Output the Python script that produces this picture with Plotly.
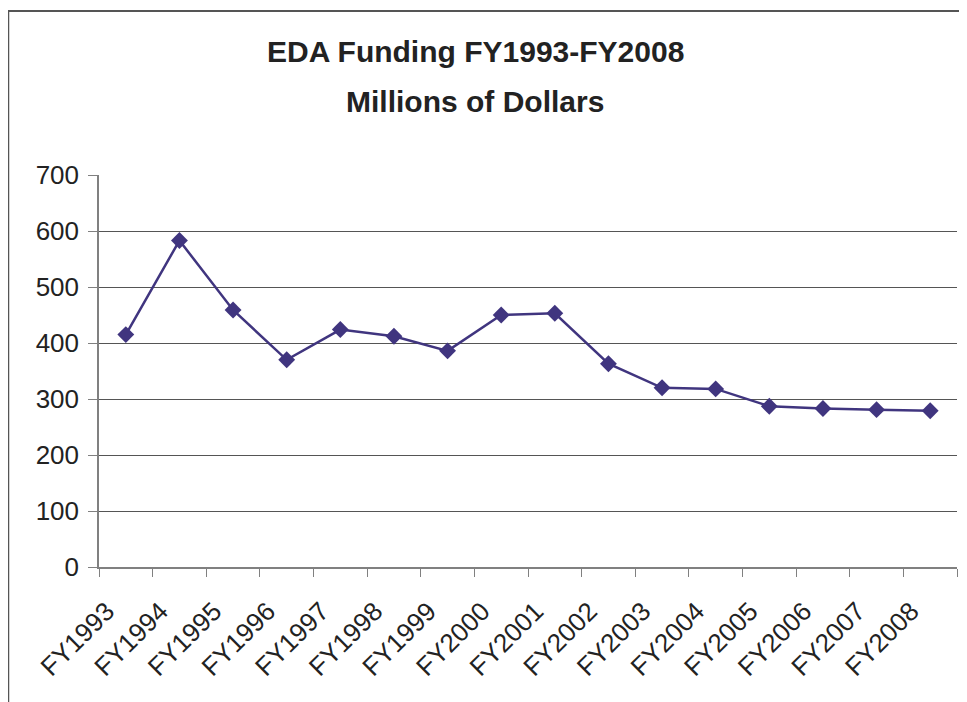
import plotly.graph_objects as go

years = ["FY1993", "FY1994", "FY1995", "FY1996", "FY1997", "FY1998", "FY1999", "FY2000",
         "FY2001", "FY2002", "FY2003", "FY2004", "FY2005", "FY2006", "FY2007", "FY2008"]
funding = [415, 583, 459, 370, 424, 412, 386, 450, 453, 363, 320, 318, 287, 283, 281, 279]
y_ticks = [0, 100, 200, 300, 400, 500, 600, 700]

# page offset (default body margin)
OFF = 8
PAGE_W, PAGE_H = 967, 702
W, H = PAGE_W - OFF, PAGE_H - OFF
# plot area in page pixels
PX0, PX1, PY0, PY1 = 99, 957, 175, 567
L, R, T, B = PX0 - OFF, W - (PX1 - OFF), PY0 - OFF, H - (PY1 - OFF)
pw, ph = W - L - R, H - T - B

def px_x(p):
    return (p - OFF - L) / pw

def px_y(p):
    return (H - B - (p - OFF)) / ph

line_color = "#40357f"
font_family = "Liberation Sans, Arial, sans-serif"

fig = go.Figure()
fig.add_trace(go.Scatter(
    x=years, y=funding, mode="lines+markers",
    line=dict(color=line_color, width=2.5),
    marker=dict(symbol="diamond", size=13, color=line_color),
    showlegend=False,
))

fig.update_layout(
    width=W, height=H,
    margin=dict(l=L, r=R, t=T, b=B),
    paper_bgcolor="white", plot_bgcolor="white",
    font=dict(family=font_family, color="#222222"),
    xaxis=dict(
        type="category", tickangle=-45, tickfont=dict(size=26, color="#222222"),
        showgrid=False, showline=True, linecolor="#808080", linewidth=1.5,
        ticks="outside", tickson="boundaries", ticklen=8, tickcolor="#808080",
        ticklabelstandoff=17, ticklabelshift=-19,
        range=[-0.5, len(years) - 0.5], fixedrange=True,
    ),
    yaxis=dict(
        range=[0, 700], tickvals=y_ticks, tickfont=dict(size=26, color="#222222"),
        showgrid=True, gridcolor="#555555", gridwidth=1,
        showline=True, linecolor="#808080", linewidth=1.5,
        ticks="outside", ticklen=9, tickcolor="#808080", zeroline=False,
        ticklabelstandoff=4, fixedrange=True,
    ),
    annotations=[
        dict(text="<b>EDA Funding FY1993-FY2008</b>", xref="paper", yref="paper",
             x=px_x(475), y=px_y(51), xanchor="center", yanchor="middle",
             showarrow=False, font=dict(size=30, color="#222222", family=font_family)),
        dict(text="<b>Millions of Dollars</b>", xref="paper", yref="paper",
             x=px_x(475), y=px_y(101), xanchor="center", yanchor="middle",
             showarrow=False, font=dict(size=30, color="#222222", family=font_family)),
    ],
    shapes=[
        dict(type="line", xref="paper", yref="paper",
             x0=px_x(8), x1=px_x(980), y0=px_y(11), y1=px_y(11),
             line=dict(color="#555555", width=2)),
        dict(type="line", xref="paper", yref="paper",
             x0=px_x(8.5), x1=px_x(8.5), y0=px_y(11), y1=px_y(710),
             line=dict(color="#555555", width=1.5)),
    ],
)

fig.write_html("out.html")
